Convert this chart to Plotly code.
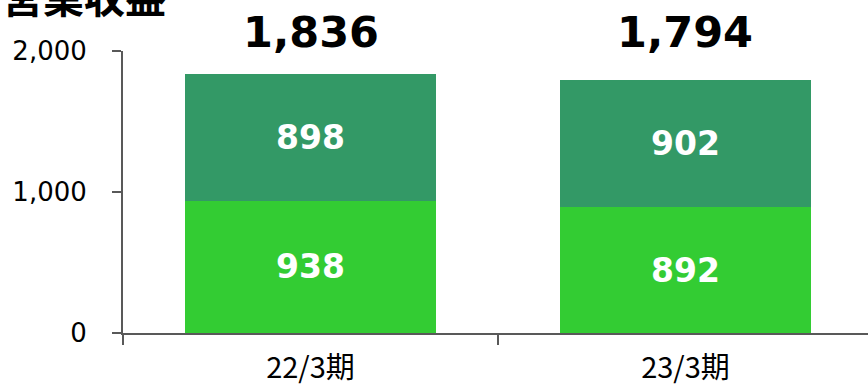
import plotly.graph_objects as go

# Operating revenue by fiscal period (two segments, stacked)
periods = ["22/3期", "23/3期"]
lower_seg = [938, 892]
upper_seg = [898, 902]
totals = [a + b for a, b in zip(lower_seg, upper_seg)]
y_ticks = [0, 1000, 2000]
y_tick_text = ["0", "1,000", "2,000"]

DARK_GREEN = "#339966"
LIGHT_GREEN = "#33cc33"
AXIS = "#595959"
BAR_W = 0.667
Y_MAX = 2000

fig = go.Figure()

seg_font = dict(family="DejaVu Sans", size=33, color="white", weight="bold")
fig.add_trace(go.Bar(
    x=periods, y=lower_seg, width=BAR_W, marker_color=LIGHT_GREEN,
    marker_line_width=0,
    text=[f"{v:,}" for v in lower_seg], textposition="inside",
    insidetextanchor="middle", textfont=seg_font,
))
fig.add_trace(go.Bar(
    x=periods, y=upper_seg, width=BAR_W, marker_color=DARK_GREEN,
    marker_line_width=0,
    text=[f"{v:,}" for v in upper_seg], textposition="inside",
    insidetextanchor="middle", textfont=seg_font,
))

# Dashed connectors between the segment tops of neighbouring bars
half = BAR_W / 2
for level in (lower_seg, totals):
    fig.add_trace(go.Scatter(
        x=[0 + half, 1 - half], y=[level[0], level[1]],
        mode="lines", line=dict(color="#777777", width=1.5, dash="dash"),
        hoverinfo="skip",
    ))

# Totals printed in a row above the plot area
for i, t in enumerate(totals):
    fig.add_annotation(
        x=i, y=2135 / Y_MAX, xref="x", yref="paper", text=f"<b>{t:,}</b>",
        showarrow=False, yanchor="middle",
        font=dict(family="DejaVu Sans", size=43, color="black"),
    )

# Chart heading at the top-left corner
fig.add_annotation(
    x=-123 / 745, y=1.2, xref="paper", yref="paper",
    text="<b>営業収益</b>", showarrow=False, xanchor="left", yanchor="middle",
    font=dict(family="Noto Sans CJK JP", size=41, color="black"),
)

fig.update_layout(
    width=868, height=388,
    margin=dict(l=123, r=0, t=51, b=55),
    barmode="stack", showlegend=False,
    plot_bgcolor="white", paper_bgcolor="white",
    xaxis=dict(
        type="category", range=[-0.5, 1.4867], automargin=False,
        showline=True, linecolor=AXIS, linewidth=2,
        ticks="outside", tickson="boundaries", ticklen=10,
        tickcolor=AXIS, tickwidth=2,
        ticklabelstandoff=8,
        tickfont=dict(family="Noto Sans CJK JP", size=29, color="black"),
        showgrid=False, zeroline=False,
    ),
    yaxis=dict(
        range=[0, Y_MAX], tickvals=y_ticks, ticktext=y_tick_text,
        automargin=False,
        showline=True, linecolor=AXIS, linewidth=2,
        ticks="outside", ticklen=9, tickcolor=AXIS, tickwidth=2,
        ticklabelstandoff=20,
        tickfont=dict(family="DejaVu Sans", size=26, color="black"),
        showgrid=False, zeroline=False,
    ),
)

fig.write_html("out.html")
